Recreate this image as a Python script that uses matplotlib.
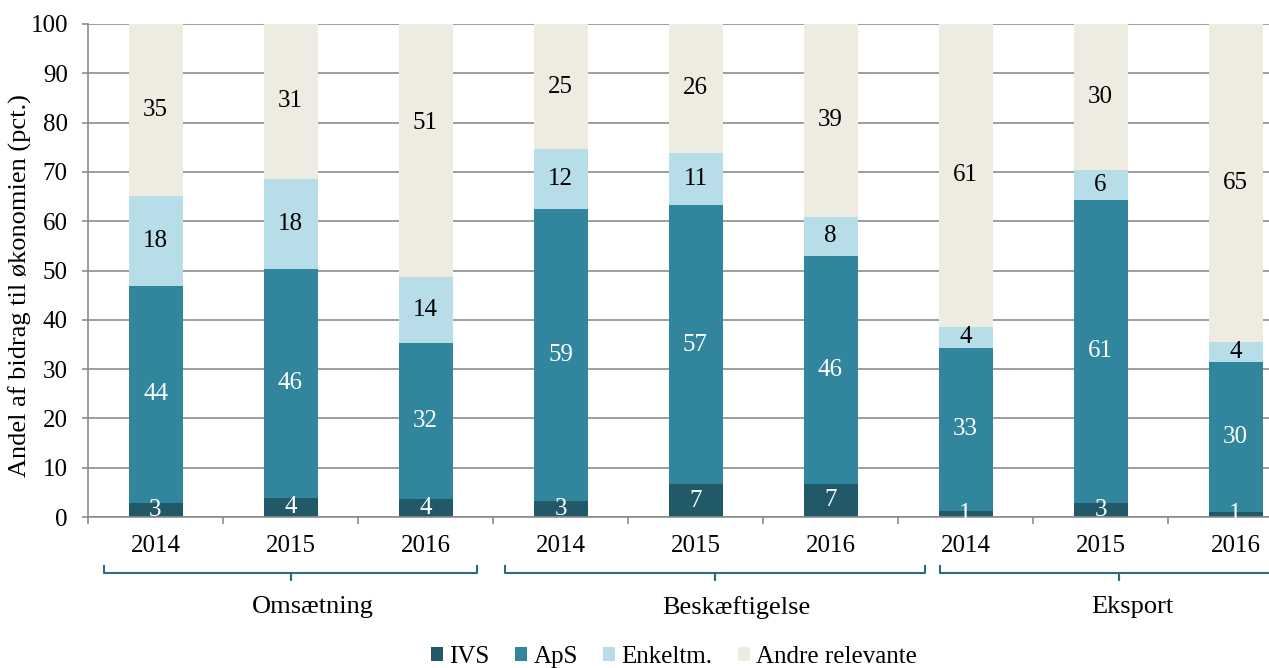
import numpy as np
import matplotlib.pyplot as plt
from matplotlib.lines import Line2D
import matplotlib.transforms as mtransforms

plt.rcParams['font.family'] = ['Liberation Serif', 'DejaVu Serif']

# Data (pct.)
years = ['2014', '2015', '2016'] * 3
groups = ['Omsætning', 'Beskæftigelse', 'Eksport']
series = ['IVS', 'ApS', 'Enkeltm.', 'Andre relevante']
ivs = [2.8, 3.9, 3.6, 3.3, 6.6, 6.7, 1.3, 2.9, 1.1]
aps = [44.1, 46.5, 31.6, 59.2, 56.7, 46.2, 33.0, 61.4, 30.3]
enk = [18.3, 18.2, 13.5, 12.1, 10.6, 8.0, 4.3, 6.1, 4.0]
andre = [34.8, 31.4, 51.3, 25.4, 26.1, 39.1, 61.4, 29.6, 64.6]

colors = ['#215968', '#31859c', '#b7dee8', '#eeece1']
text_colors = ['white', 'white', 'black', 'black']
fs = 18

fig = plt.figure(figsize=(12.69, 6.68), dpi=100)
ax = fig.add_axes([88 / 1269, 151 / 668, 1215 / 1269, 493 / 668])

x = np.arange(len(years))
bottom = np.zeros(len(years))
for name, vals, col, tcol in zip(series, [ivs, aps, enk, andre], colors, text_colors):
    vals = np.array(vals)
    ax.bar(x, vals, 0.4, bottom=bottom, color=col, label=name, zorder=2)
    for i, v in enumerate(vals):
        yc = bottom[i] + v / 2
        # the 2016 "Andre relevante" label for Omsætning sits higher in the original
        if name == 'Andre relevante' and i == 2:
            yc = 80
        ax.text(x[i], yc, f'{v:.0f}', ha='center', va='center', color=tcol,
                fontsize=fs, zorder=3)
    bottom += vals

ax.set_xlim(-0.5, 8.5)
ax.set_ylim(0, 100)
ax.set_yticks(range(0, 101, 10))
ax.yaxis.grid(True, color='#8c8c8c', linewidth=1.2)
ax.set_axisbelow(True)

ax.set_xticks(x)
ax.set_xticklabels(years)
ax.set_xticks(np.arange(-0.5, 9, 1), minor=True)
ax.tick_params(axis='x', which='major', length=0, pad=13, labelsize=fs)
ax.tick_params(axis='x', which='minor', length=5, width=1.2, color='#8c8c8c')
ax.tick_params(axis='y', length=4.5, width=1.2, color='#8c8c8c', pad=10, labelsize=fs)

for s in ['top', 'right']:
    ax.spines[s].set_visible(False)
for s in ['left', 'bottom']:
    ax.spines[s].set_color('#8c8c8c')
    ax.spines[s].set_linewidth(1.2)

ax.set_ylabel('Andel af bidrag til økonomien (pct.)', fontsize=19)
ax.yaxis.set_label_coords(-0.046, 0.47)

# group brackets
trans = mtransforms.blended_transform_factory(ax.transData, ax.transAxes)
brackets = [(-0.381, 2.381), (2.589, 5.70), (5.811, 8.47)]
label_x = [1.167, 4.3, 7.233]
for (x0, x1), lx, g in zip(brackets, label_x, groups):
    xc = (x0 + x1) / 2
    bx = [x0, x0, xc, xc, xc, x1, x1]
    by = [-0.099, -0.113, -0.113, -0.128, -0.113, -0.113, -0.099]
    ax.add_line(Line2D(bx, by, transform=trans, color='#2b6c7e', linewidth=1.5,
                       clip_on=False, solid_joinstyle='round'))
    ax.text(lx, -0.183, g, transform=trans, ha='center', va='center', fontsize=19)

fig.legend(loc='center', bbox_to_anchor=(674 / 1269, 11 / 668), ncol=4, frameon=False,
           fontsize=fs, handlelength=0.5, handleheight=0.5, handletextpad=0.25,
           columnspacing=1.0, borderaxespad=0, borderpad=0)

fig.savefig('out.png', dpi=100)
